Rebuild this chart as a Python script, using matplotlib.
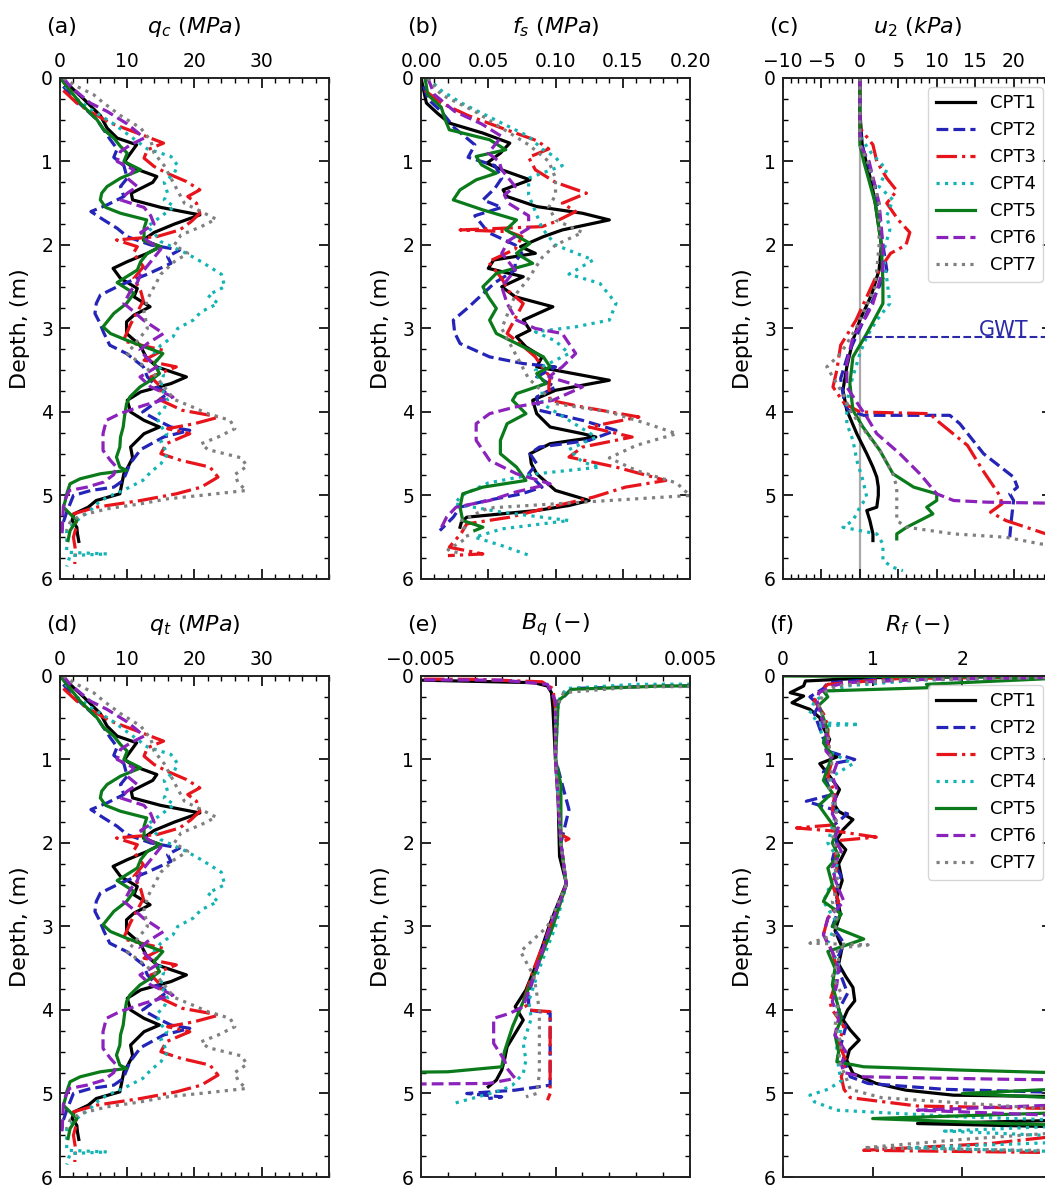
import matplotlib
matplotlib.use("Agg")
import matplotlib.pyplot as plt
from matplotlib.ticker import MultipleLocator, NullLocator, FuncFormatter

plt.rcParams["font.family"] = "DejaVu Sans"
plt.rcParams["mathtext.fontset"] = "dejavusans"

CPT_NAMES = ["CPT1", "CPT2", "CPT3", "CPT4", "CPT5", "CPT6", "CPT7"]
COLORS = ["#000000", "#2424b8", "#e8141c", "#14b4b4", "#0a7a1a", "#8c22bc", "#808080"]
STYLES = ["-", "--", "-.", ":", "-", "--", ":"]

# ---------------- cone resistance q_c (MPa) ----------------
qc1_z = [0.0, 0.1, 0.25, 0.45, 0.6, 0.72, 0.8, 0.9, 1.0, 1.08, 1.18, 1.25, 1.38, 1.46, 1.55, 1.64, 1.75, 1.85, 1.94, 2.02, 2.1, 2.2, 2.28, 2.4, 2.52, 2.62, 2.74, 2.84, 2.92, 3.06, 3.2, 3.34, 3.46, 3.58, 3.66, 3.76, 3.86, 4.0, 4.1, 4.18, 4.26, 4.42, 4.55, 4.66, 4.74, 4.86, 4.98, 5.06, 5.14, 5.22, 5.3, 5.38, 5.46, 5.55]
qc1_v = [0.0, 1.5, 3.5, 6.0, 7.0, 8.5, 11.4, 10.5, 9.6, 11.0, 14.4, 13.8, 10.6, 10.8, 15.0, 20.8, 17.0, 14.0, 12.4, 14.9, 13.0, 10.0, 7.9, 9.0, 11.5, 11.0, 13.4, 11.0, 9.9, 9.9, 11.9, 12.8, 14.4, 18.8, 16.5, 12.0, 10.0, 10.5, 12.5, 14.8, 12.5, 10.5, 10.8, 10.1, 9.5, 9.2, 8.9, 5.4, 4.2, 2.1, 1.8, 2.5, 2.6, 2.8]
qc2_z = [0.1, 0.2, 0.35, 0.5, 0.62, 0.73, 0.85, 0.95, 1.05, 1.2, 1.3, 1.42, 1.52, 1.6, 1.7, 1.8, 1.9, 2.0, 2.06, 2.14, 2.22, 2.35, 2.48, 2.6, 2.7, 2.82, 2.93, 3.05, 3.2, 3.3, 3.46, 3.58, 3.7, 3.78, 3.9, 4.0, 4.1, 4.18, 4.22, 4.3, 4.45, 4.62, 4.82, 4.9, 4.94, 5.0, 5.1, 5.2, 5.32, 5.45]
qc2_v = [0.5, 1.5, 3.5, 5.5, 6.5, 7.4, 8.5, 8.0, 9.5, 10.0, 9.0, 9.5, 7.0, 4.6, 6.5, 8.5, 10.0, 13.5, 17.8, 16.0, 16.5, 13.0, 9.0, 6.0, 5.4, 5.2, 5.9, 6.5, 7.4, 9.9, 12.4, 13.0, 14.4, 16.0, 14.0, 12.3, 14.5, 16.5, 19.3, 15.4, 12.0, 10.4, 9.4, 8.0, 4.6, 2.0, 1.5, 1.0, 0.5, 0.2]
qc3_z = [0.15, 0.3, 0.38, 0.54, 0.66, 0.78, 0.86, 0.96, 1.06, 1.14, 1.24, 1.34, 1.42, 1.5, 1.62, 1.72, 1.82, 1.9, 1.94, 2.02, 2.1, 2.26, 2.4, 2.55, 2.67, 2.8, 2.95, 3.15, 3.26, 3.38, 3.46, 3.58, 3.7, 3.86, 3.98, 4.06, 4.14, 4.2, 4.26, 4.38, 4.5, 4.58, 4.66, 4.78, 4.9, 4.98, 5.06, 5.14, 5.22, 5.35, 5.5, 5.65, 5.82]
qc3_v = [0.5, 2.5, 4.0, 7.5, 11.5, 15.4, 13.0, 12.5, 14.0, 15.9, 18.8, 20.8, 19.0, 20.3, 20.8, 19.5, 17.8, 14.4, 8.4, 11.5, 10.9, 12.4, 11.0, 12.0, 12.4, 11.5, 10.5, 9.4, 15.3, 12.5, 17.3, 13.5, 15.0, 15.0, 18.2, 23.7, 20.0, 16.0, 19.3, 15.8, 15.0, 18.0, 22.3, 23.5, 21.0, 17.3, 12.0, 5.4, 2.0, 2.5, 2.0, 2.3, 2.2]
qc4_z = [0.1, 0.25, 0.4, 0.55, 0.7, 0.85, 0.94, 1.05, 1.14, 1.25, 1.38, 1.46, 1.54, 1.66, 1.78, 1.86, 1.96, 2.1, 2.2, 2.35, 2.5, 2.6, 2.7, 2.8, 2.9, 3.0, 3.1, 3.2, 3.3, 3.42, 3.55, 3.7, 3.86, 3.96, 4.05, 4.15, 4.26, 4.36, 4.5, 4.62, 4.72, 4.82, 4.94, 5.02, 5.1, 5.18, 5.3, 5.42, 5.58, 5.68, 5.7, 5.72, 5.85]
qc4_v = [0.8, 2.5, 5.0, 8.0, 10.5, 13.0, 16.5, 17.5, 17.0, 15.5, 16.0, 15.5, 17.0, 15.0, 13.0, 14.0, 15.0, 18.8, 21.0, 24.0, 24.5, 22.0, 23.5, 21.0, 19.8, 17.5, 16.8, 15.0, 14.0, 14.5, 15.4, 15.0, 16.0, 15.5, 14.4, 14.8, 15.9, 15.0, 16.0, 15.0, 13.5, 12.3, 9.4, 7.0, 5.5, 4.5, 2.5, 1.0, 1.0, 1.0, 7.0, 1.5, 1.0]
qc5_z = [0.0, 0.15, 0.3, 0.5, 0.62, 0.72, 0.82, 0.9, 1.0, 1.1, 1.2, 1.3, 1.38, 1.46, 1.55, 1.62, 1.7, 1.8, 1.95, 2.02, 2.1, 2.2, 2.3, 2.45, 2.58, 2.7, 2.82, 2.98, 3.06, 3.14, 3.2, 3.3, 3.42, 3.54, 3.62, 3.7, 3.82, 3.9, 4.05, 4.18, 4.3, 4.42, 4.54, 4.66, 4.7, 4.74, 4.8, 4.86, 4.98, 5.06, 5.14, 5.22, 5.3, 5.42, 5.54]
qc5_v = [0.0, 1.5, 3.0, 5.5, 6.5, 8.0, 9.0, 10.0, 9.5, 12.0, 9.0, 7.0, 6.2, 6.0, 6.8, 9.0, 12.9, 12.5, 12.5, 15.0, 13.0, 12.0, 11.5, 8.5, 11.0, 9.9, 8.0, 6.4, 7.5, 9.9, 11.9, 15.3, 14.0, 14.8, 13.5, 11.9, 10.4, 9.9, 9.6, 9.4, 9.0, 8.9, 8.4, 8.9, 9.9, 6.0, 3.0, 1.5, 1.0, 0.8, 0.5, 1.5, 2.5, 1.5, 1.2]
qc6_z = [0.0, 0.1, 0.2, 0.3, 0.4, 0.55, 0.65, 0.72, 0.8, 0.88, 1.0, 1.1, 1.2, 1.3, 1.38, 1.46, 1.55, 1.65, 1.75, 1.85, 1.95, 2.05, 2.15, 2.25, 2.35, 2.45, 2.55, 2.7, 2.8, 2.9, 3.06, 3.18, 3.26, 3.36, 3.46, 3.58, 3.7, 3.82, 3.92, 4.02, 4.1, 4.26, 4.46, 4.58, 4.66, 4.75, 4.84, 4.9, 4.94, 5.04, 5.14, 5.3, 5.46]
qc6_v = [0.5, 1.5, 3.0, 4.5, 7.0, 10.0, 11.5, 12.5, 10.5, 9.0, 8.5, 11.0, 10.0, 11.5, 10.0, 9.0, 12.5, 13.5, 14.0, 12.0, 13.0, 15.0, 14.0, 13.0, 12.0, 11.5, 10.5, 9.5, 11.0, 12.4, 15.4, 13.0, 11.9, 13.0, 14.4, 11.9, 13.5, 16.8, 12.5, 8.9, 6.9, 6.4, 6.4, 7.5, 8.4, 8.0, 6.5, 4.0, 1.4, 0.8, 0.5, 0.4, 0.3]
qc7_z = [0.0, 0.1, 0.2, 0.3, 0.45, 0.6, 0.75, 0.9, 1.05, 1.2, 1.35, 1.5, 1.6, 1.69, 1.78, 1.88, 2.0, 2.1, 2.2, 2.35, 2.5, 2.65, 2.8, 3.0, 3.15, 3.3, 3.42, 3.55, 3.7, 3.85, 3.95, 4.02, 4.1, 4.2, 4.3, 4.38, 4.45, 4.55, 4.65, 4.75, 4.85, 4.94, 5.0, 5.04, 5.1, 5.16, 5.24, 5.32, 5.42]
qc7_v = [0.5, 2.5, 5.0, 6.5, 9.0, 12.0, 13.5, 14.0, 15.5, 16.5, 17.5, 18.5, 21.0, 23.2, 21.0, 18.0, 17.0, 19.0, 17.0, 15.0, 14.0, 13.0, 12.5, 13.0, 11.5, 10.0, 12.0, 14.0, 15.5, 17.0, 20.0, 22.0, 25.3, 26.0, 23.5, 21.0, 22.0, 27.0, 27.8, 26.0, 26.5, 27.7, 20.8, 16.0, 12.0, 7.0, 3.0, 1.5, 1.0]

# ---------------- sleeve friction f_s (MPa) ----------------
fs1_z = [0.0, 0.15, 0.3, 0.42, 0.54, 0.66, 0.78, 0.9, 1.02, 1.1, 1.22, 1.34, 1.42, 1.54, 1.62, 1.7, 1.82, 1.9, 2.02, 2.1, 2.18, 2.28, 2.38, 2.5, 2.62, 2.74, 2.9, 3.02, 3.1, 3.22, 3.34, 3.46, 3.5, 3.62, 3.74, 3.86, 4.02, 4.18, 4.26, 4.3, 4.38, 4.5, 4.62, 4.74, 4.94, 5.06, 5.12, 5.18, 5.26, 5.32, 5.38]
fs1_v = [0.0, 0.002, 0.004, 0.012, 0.021, 0.046, 0.066, 0.059, 0.049, 0.06, 0.081, 0.061, 0.064, 0.086, 0.12, 0.14, 0.105, 0.091, 0.074, 0.085, 0.054, 0.05, 0.076, 0.06, 0.07, 0.098, 0.076, 0.081, 0.071, 0.078, 0.09, 0.086, 0.1, 0.14, 0.1, 0.083, 0.086, 0.096, 0.12, 0.13, 0.096, 0.081, 0.082, 0.086, 0.1, 0.125, 0.11, 0.086, 0.034, 0.03, 0.029]
fs2_z = [0.1, 0.25, 0.4, 0.6, 0.8, 0.95, 1.05, 1.2, 1.32, 1.46, 1.55, 1.65, 1.75, 1.85, 2.0, 2.1, 2.2, 2.3, 2.45, 2.6, 2.75, 2.9, 3.05, 3.18, 3.34, 3.42, 3.46, 3.58, 3.7, 3.82, 3.98, 4.1, 4.22, 4.34, 4.42, 4.5, 4.62, 4.74, 4.9, 4.98, 5.06, 5.14, 5.26, 5.42]
fs2_v = [0.002, 0.005, 0.015, 0.025, 0.04, 0.035, 0.055, 0.06, 0.055, 0.046, 0.06, 0.04, 0.045, 0.05, 0.07, 0.075, 0.07, 0.07, 0.055, 0.045, 0.035, 0.024, 0.025, 0.029, 0.051, 0.076, 0.1, 0.086, 0.1, 0.086, 0.088, 0.12, 0.145, 0.125, 0.088, 0.081, 0.086, 0.08, 0.09, 0.075, 0.049, 0.029, 0.024, 0.014]
fs3_z = [0.15, 0.3, 0.45, 0.6, 0.75, 0.85, 0.95, 1.1, 1.25, 1.38, 1.5, 1.6, 1.72, 1.78, 1.82, 1.84, 1.9, 2.05, 2.2, 2.4, 2.55, 2.7, 2.94, 3.06, 3.2, 3.34, 3.46, 3.58, 3.7, 3.86, 3.94, 4.06, 4.18, 4.3, 4.42, 4.54, 4.66, 4.82, 4.9, 5.02, 5.14, 5.26, 5.34, 5.45, 5.62, 5.7, 5.72]
fs3_v = [0.003, 0.015, 0.035, 0.06, 0.086, 0.095, 0.08, 0.085, 0.1, 0.123, 0.105, 0.115, 0.1, 0.09, 0.029, 0.065, 0.075, 0.07, 0.05, 0.06, 0.065, 0.076, 0.068, 0.064, 0.075, 0.085, 0.09, 0.096, 0.095, 0.096, 0.12, 0.162, 0.125, 0.157, 0.12, 0.11, 0.145, 0.182, 0.152, 0.128, 0.096, 0.066, 0.034, 0.03, 0.021, 0.046, 0.02]
fs4_z = [0.0, 0.15, 0.3, 0.5, 0.7, 0.85, 0.95, 1.05, 1.2, 1.4, 1.6, 1.8, 2.0, 2.18, 2.35, 2.46, 2.6, 2.7, 2.9, 2.98, 3.04, 3.15, 3.3, 3.5, 3.7, 3.9, 4.1, 4.3, 4.45, 4.6, 4.66, 4.74, 4.85, 5.0, 5.1, 5.2, 5.3, 5.4, 5.5, 5.6, 5.72]
fs4_v = [0.005, 0.015, 0.03, 0.055, 0.08, 0.09, 0.1, 0.105, 0.08, 0.08, 0.085, 0.09, 0.1, 0.128, 0.11, 0.133, 0.14, 0.145, 0.14, 0.115, 0.085, 0.1, 0.11, 0.085, 0.09, 0.09, 0.11, 0.13, 0.11, 0.12, 0.133, 0.086, 0.05, 0.03, 0.025, 0.06, 0.11, 0.06, 0.04, 0.06, 0.081]
fs5_z = [0.0, 0.2, 0.35, 0.5, 0.62, 0.74, 0.86, 0.94, 1.04, 1.14, 1.22, 1.34, 1.46, 1.58, 1.7, 1.82, 1.98, 2.1, 2.22, 2.34, 2.5, 2.62, 2.76, 2.9, 3.06, 3.22, 3.34, 3.46, 3.54, 3.66, 3.78, 3.86, 4.02, 4.14, 4.34, 4.5, 4.66, 4.82, 4.9, 4.98, 5.14, 5.3, 5.38, 5.42]
fs5_v = [0.003, 0.005, 0.015, 0.018, 0.021, 0.051, 0.063, 0.041, 0.045, 0.056, 0.041, 0.029, 0.024, 0.046, 0.071, 0.063, 0.081, 0.071, 0.083, 0.056, 0.046, 0.05, 0.056, 0.051, 0.056, 0.076, 0.091, 0.096, 0.086, 0.093, 0.071, 0.068, 0.078, 0.064, 0.059, 0.059, 0.071, 0.078, 0.046, 0.031, 0.029, 0.031, 0.046, 0.04]
fs6_z = [0.0, 0.2, 0.4, 0.55, 0.7, 0.8, 0.9, 1.0, 1.1, 1.2, 1.3, 1.4, 1.5, 1.65, 1.8, 1.95, 2.1, 2.3, 2.5, 2.7, 2.9, 3.0, 3.06, 3.3, 3.46, 3.58, 3.7, 3.86, 3.94, 4.02, 4.14, 4.34, 4.58, 4.74, 4.86, 4.96, 5.06, 5.14, 5.26, 5.42]
fs6_v = [0.005, 0.01, 0.025, 0.045, 0.06, 0.055, 0.05, 0.058, 0.06, 0.065, 0.07, 0.062, 0.065, 0.08, 0.08, 0.065, 0.06, 0.07, 0.06, 0.064, 0.071, 0.085, 0.105, 0.115, 0.105, 0.095, 0.12, 0.098, 0.07, 0.051, 0.041, 0.041, 0.051, 0.071, 0.096, 0.07, 0.051, 0.026, 0.019, 0.014]
fs7_z = [0.0, 0.2, 0.4, 0.6, 0.8, 1.0, 1.2, 1.4, 1.55, 1.7, 1.85, 2.0, 2.15, 2.4, 2.6, 2.8, 3.0, 3.3, 3.6, 3.9, 4.0, 4.15, 4.26, 4.4, 4.55, 4.7, 4.85, 5.0, 5.05, 5.1, 5.15, 5.3, 5.5, 5.65, 5.7]
fs7_v = [0.005, 0.015, 0.04, 0.06, 0.08, 0.095, 0.1, 0.1, 0.095, 0.1, 0.12, 0.1, 0.09, 0.08, 0.07, 0.065, 0.06, 0.07, 0.08, 0.1, 0.14, 0.17, 0.19, 0.16, 0.14, 0.16, 0.19, 0.2, 0.15, 0.1, 0.05, 0.03, 0.035, 0.02, 0.03]

# ---------------- pore pressure u_2 (kPa) ----------------
u1_z = [0.0, 0.4, 0.8, 1.0, 1.25, 1.5, 1.75, 2.0, 2.3, 2.6, 2.9, 3.14, 3.46, 3.74, 3.98, 4.26, 4.5, 4.66, 4.78, 4.9, 5.0, 5.14, 5.18, 5.3, 5.46, 5.54]
u1_v = [0.0, 0.0, 0.3, 0.8, 1.5, 2.0, 2.4, 2.8, 2.5, 1.5, 0.0, -0.9, -1.7, -2.2, -1.7, -0.4, 0.9, 1.7, 2.2, 2.4, 2.4, 2.2, 0.9, 1.3, 1.7, 1.7]
u2_z = [0.0, 0.4, 0.8, 1.0, 1.3, 1.7, 2.0, 2.3, 2.6, 3.0, 3.3, 3.6, 3.9, 3.98, 4.04, 4.04, 4.14, 4.5, 4.78, 4.9, 4.98, 5.06, 5.3, 5.5]
u2_v = [0.0, 0.0, 0.2, 1.0, 2.0, 2.5, 3.0, 3.5, 2.0, 0.0, -1.5, -2.5, -2.0, -1.5, 0.5, 11.7, 13.0, 16.1, 20.0, 20.5, 19.5, 20.0, 19.7, 19.5]
u3_z = [0.0, 0.6, 0.8, 1.0, 1.2, 1.35, 1.5, 1.7, 1.85, 2.0, 2.1, 2.3, 2.6, 2.9, 3.2, 3.5, 3.7, 3.9, 4.0, 4.02, 4.1, 4.4, 4.7, 5.0, 5.1, 5.2, 5.3, 5.45, 5.55]
u3_v = [0.0, 0.0, 1.7, 2.2, 3.5, 4.8, 3.5, 5.0, 6.5, 6.0, 4.0, 2.5, 1.0, -0.5, -2.5, -3.0, -3.5, -2.0, 0.0, 9.1, 10.0, 14.0, 16.0, 18.2, 18.5, 17.0, 19.0, 23.9, 27.0]
u4_z = [0.0, 0.7, 0.9, 1.1, 1.3, 1.46, 1.65, 1.82, 2.1, 2.4, 2.7, 2.9, 3.1, 3.3, 3.7, 3.9, 4.14, 4.34, 4.58, 4.82, 5.02, 5.14, 5.3, 5.38, 5.42, 5.46, 5.58, 5.78, 5.86, 5.9]
u4_v = [0.0, 0.0, 1.5, 3.5, 2.5, 4.3, 3.5, 3.9, 3.0, 3.5, 3.9, 2.2, 0.9, 0.0, -1.3, -1.7, -1.7, -0.9, -0.4, 0.4, 0.9, 0.0, -0.9, -2.2, 0.0, 2.2, 3.0, 3.0, 4.3, 5.6]
u5_z = [0.0, 0.8, 1.0, 1.5, 2.0, 2.46, 2.7, 3.06, 3.34, 3.66, 3.98, 4.18, 4.46, 4.74, 4.9, 4.98, 5.06, 5.14, 5.22, 5.3, 5.38, 5.46, 5.52]
u5_v = [0.0, 0.0, 0.5, 2.0, 2.8, 3.0, 3.0, 0.9, -0.9, -1.3, -0.9, 0.4, 2.6, 4.3, 7.0, 10.0, 10.0, 8.7, 9.5, 7.8, 6.1, 4.8, 4.8]
u6_z = [0.0, 0.8, 1.0, 1.5, 2.0, 2.3, 2.7, 2.86, 3.1, 3.42, 3.7, 3.94, 4.06, 4.26, 4.5, 4.74, 4.98, 5.06, 5.08, 5.1]
u6_v = [0.0, 0.0, 1.2, 2.5, 3.0, 3.0, 1.7, 0.8, -0.9, -1.7, -1.7, 0.0, 0.9, 2.2, 5.2, 7.8, 10.0, 12.2, 16.5, 30.0]
u7_z = [0.0, 0.8, 1.0, 1.5, 2.0, 2.5, 3.0, 3.3, 3.46, 3.66, 3.82, 3.98, 4.26, 4.46, 4.74, 4.9, 5.14, 5.3, 5.38, 5.46, 5.5, 5.58, 5.62]
u7_v = [0.0, 0.0, 1.0, 2.5, 2.5, 2.0, -0.5, -2.5, -4.3, -3.0, -2.0, -1.3, 0.9, 2.6, 4.3, 4.8, 4.8, 4.8, 6.1, 12.2, 19.0, 23.5, 30.0]

GWT_DEPTH = 3.1

# ---------------- pore pressure ratio B_q (-) ----------------
bq1_z = [0.03, 0.05, 0.08, 0.12, 0.2, 0.37, 1.0, 1.5, 2.16, 2.48, 2.96, 3.44, 3.76, 3.96, 4.12, 4.28, 4.44, 4.6, 4.72, 4.84, 4.92]
bq1_v = [-0.02, -0.005, -0.0008, -0.0003, -0.00015, -0.0001, 0.0, 0.0001, 0.00015, 0.0004, -0.0002, -0.0007, -0.0011, -0.0015, -0.0012, -0.0015, -0.0018, -0.0019, -0.002, -0.0022, -0.0025]
bq2_z = [0.1, 0.12, 0.15, 0.22, 0.3, 0.4, 1.0, 1.6, 2.0, 2.5, 3.0, 3.4, 3.8, 4.0, 4.04, 4.1, 4.5, 4.9, 4.96, 5.0, 5.04, 5.06]
bq2_v = [0.02, 0.004, 0.0006, 0.0004, 0.00015, 0.0, 0.0, 0.0005, 0.0002, 0.0004, -0.0002, -0.0006, -0.001, -0.001, -0.0002, -0.0002, -0.0002, -0.0002, -0.0015, -0.0033, -0.002, -0.0025]
bq3_z = [0.02, 0.04, 0.07, 0.15, 0.4, 1.0, 1.9, 1.95, 2.0, 2.5, 3.0, 3.5, 3.9, 4.0, 4.02, 4.5, 5.0, 5.08]
bq3_v = [-0.02, -0.003, -0.0005, -0.0001, 0.0, 0.0, 0.0002, 0.0005, 0.0002, 0.0004, -0.0002, -0.0008, -0.0012, -0.001, -0.0002, -0.0002, -0.0002, -0.0003]
bq4_z = [0.08, 0.1, 0.15, 0.3, 1.0, 2.0, 2.5, 3.0, 3.5, 3.9, 4.1, 4.4, 4.6, 4.76, 4.9, 4.96, 5.05, 5.12]
bq4_v = [0.02, 0.003, 0.0004, 0.0001, 0.0, 0.0002, 0.0004, 0.0, -0.0006, -0.001, -0.0009, -0.0012, -0.0011, -0.0012, -0.0016, -0.002, -0.003, -0.0038]
bq5_z = [0.1, 0.12, 0.16, 0.3, 1.0, 1.3, 2.0, 2.5, 3.0, 3.5, 3.9, 4.2, 4.5, 4.68, 4.74, 4.8]
bq5_v = [0.02, 0.004, 0.0006, 0.0001, 0.0, 0.0002, 0.0002, 0.0004, -0.0001, -0.0007, -0.0012, -0.0016, -0.0019, -0.002, -0.004, -0.02]
bq6_z = [0.03, 0.05, 0.1, 0.3, 1.0, 2.0, 2.5, 3.0, 3.5, 3.96, 4.04, 4.1, 4.4, 4.6, 4.7, 4.82, 4.88, 4.92]
bq6_v = [-0.02, -0.002, -0.0003, 0.0, 0.0, 0.0002, 0.0004, -0.0002, -0.0007, -0.0012, -0.0017, -0.0023, -0.0023, -0.0019, -0.0018, -0.0015, -0.0025, -0.02]
bq7_z = [0.1, 0.13, 0.2, 0.4, 1.0, 2.0, 2.5, 3.0, 3.3, 3.6, 4.0, 4.12, 4.5, 4.76, 5.0, 5.04]
bq7_v = [0.02, 0.003, 0.0003, 0.0, 0.0, 0.0002, 0.0004, -0.0003, -0.0013, -0.0008, -0.0006, -0.0006, -0.0006, -0.0006, -0.0007, -0.0011]

# ---------------- friction ratio R_f (-) ----------------
rf1_z = [0.0, 0.02, 0.06, 0.12, 0.2, 0.24, 0.32, 0.4, 0.5, 0.62, 0.76, 0.88, 0.97, 1.05, 1.2, 1.36, 1.52, 1.62, 1.72, 1.84, 1.96, 2.08, 2.25, 2.45, 2.65, 2.85, 3.05, 3.25, 3.45, 3.6, 3.73, 3.89, 4.0, 4.12, 4.24, 4.36, 4.48, 4.6, 4.76, 4.88, 4.96, 5.02, 5.05, 5.15, 5.3, 5.36, 5.42]
rf1_v = [3.5, 1.0, 0.25, 0.23, 0.08, 0.23, 0.1, 0.3, 0.41, 0.45, 0.52, 0.48, 0.6, 0.41, 0.52, 0.63, 0.56, 0.62, 0.78, 0.67, 0.6, 0.7, 0.62, 0.66, 0.6, 0.64, 0.58, 0.66, 0.62, 0.7, 0.78, 0.8, 0.72, 0.67, 0.75, 0.85, 0.74, 0.71, 0.78, 1.04, 1.37, 1.9, 4.0, 4.0, 4.0, 1.5, 4.0]
rf2_z = [0.0, 0.03, 0.08, 0.15, 0.25, 0.35, 0.45, 0.6, 0.75, 0.9, 1.0, 1.05, 1.15, 1.3, 1.42, 1.5, 1.58, 1.65, 1.8, 2.0, 2.2, 2.4, 2.6, 2.8, 3.0, 3.2, 3.4, 3.6, 3.8, 4.0, 4.2, 4.4, 4.6, 4.8, 4.88, 4.95, 5.0, 5.1, 5.25, 5.35]
rf2_v = [4.0, 1.2, 0.5, 0.45, 0.3, 0.4, 0.35, 0.4, 0.45, 0.5, 0.8, 0.55, 0.45, 0.5, 0.55, 0.26, 0.5, 0.72, 0.55, 0.6, 0.55, 0.65, 0.58, 0.62, 0.55, 0.68, 0.6, 0.65, 0.72, 0.62, 0.7, 0.65, 0.68, 0.75, 0.95, 1.8, 3.5, 4.0, 4.0, 4.0]
rf3_z = [0.0, 0.03, 0.1, 0.2, 0.3, 0.45, 0.6, 0.8, 1.0, 1.2, 1.4, 1.6, 1.78, 1.82, 1.86, 1.93, 1.97, 2.1, 2.3, 2.5, 2.7, 2.9, 3.1, 3.3, 3.5, 3.7, 3.9, 4.0, 4.2, 4.4, 4.6, 4.8, 4.95, 5.05, 5.15, 5.2, 5.4, 5.6, 5.68, 5.72]
rf3_v = [4.0, 1.3, 0.5, 0.4, 0.35, 0.45, 0.5, 0.5, 0.55, 0.5, 0.58, 0.55, 0.6, 0.15, 0.6, 1.04, 0.62, 0.58, 0.6, 0.55, 0.62, 0.5, 0.45, 0.55, 0.6, 0.58, 0.52, 0.55, 0.68, 0.62, 0.7, 0.65, 0.68, 0.75, 1.5, 4.0, 4.0, 2.3, 0.9, 4.0]
rf4_z = [0.0, 0.05, 0.12, 0.2, 0.3, 0.45, 0.56, 0.58, 0.6, 0.75, 0.9, 1.05, 1.2, 1.4, 1.6, 1.8, 2.0, 2.2, 2.45, 2.7, 2.95, 3.2, 3.45, 3.7, 3.95, 4.2, 4.45, 4.7, 4.85, 4.95, 5.02, 5.1, 5.2, 5.28, 5.35, 5.45, 5.55, 5.65, 5.72, 5.78]
rf4_v = [4.0, 1.5, 0.7, 0.5, 0.35, 0.3, 0.4, 0.85, 0.4, 0.45, 0.5, 0.78, 0.55, 0.5, 0.6, 0.55, 0.5, 0.62, 0.55, 0.45, 0.6, 0.5, 0.62, 0.58, 0.6, 0.65, 0.6, 0.62, 0.65, 0.5, 0.3, 0.35, 0.6, 2.0, 4.0, 1.8, 4.0, 1.4, 4.0, 4.0]
rf5_z = [0.0, 0.02, 0.03, 0.1, 0.14, 0.18, 0.25, 0.35, 0.5, 0.65, 0.8, 0.95, 1.1, 1.25, 1.4, 1.55, 1.7, 1.85, 2.0, 2.15, 2.3, 2.5, 2.7, 2.85, 3.0, 3.15, 3.3, 3.5, 3.7, 3.9, 4.1, 4.3, 4.5, 4.62, 4.68, 4.72, 4.78, 4.9, 5.0, 5.1, 5.2, 5.3, 5.36, 5.4]
rf5_v = [0.0, 4.0, 3.0, 1.6, 1.63, 0.45, 0.5, 0.4, 0.45, 0.5, 0.45, 0.55, 0.5, 0.45, 0.55, 0.4, 0.5, 0.6, 0.55, 0.62, 0.5, 0.55, 0.45, 0.65, 0.55, 0.9, 0.5, 0.58, 0.55, 0.6, 0.65, 0.58, 0.62, 0.6, 0.9, 2.0, 4.0, 4.0, 2.0, 4.0, 4.0, 1.0, 2.5, 4.0]
rf6_z = [0.0, 0.04, 0.08, 0.12, 0.2, 0.3, 0.45, 0.6, 0.75, 0.9, 1.05, 1.2, 1.35, 1.5, 1.65, 1.8, 1.95, 2.1, 2.3, 2.5, 2.7, 2.9, 3.1, 3.3, 3.5, 3.7, 3.9, 4.1, 4.3, 4.5, 4.65, 4.75, 4.8, 4.83, 4.85, 5.1, 5.2, 5.3]
rf6_v = [4.0, 1.6, 0.7, 0.55, 0.4, 0.38, 0.42, 0.45, 0.5, 0.48, 0.6, 0.55, 0.6, 0.58, 0.55, 0.62, 0.58, 0.65, 0.55, 0.6, 0.68, 0.5, 0.45, 0.55, 0.62, 0.6, 0.55, 0.62, 0.58, 0.7, 0.65, 0.68, 0.9, 2.5, 4.0, 4.0, 1.5, 4.0]
rf7_z = [0.0, 0.05, 0.12, 0.2, 0.35, 0.5, 0.7, 0.9, 1.1, 1.3, 1.5, 1.7, 1.9, 2.1, 2.3, 2.5, 2.7, 2.9, 3.1, 3.2, 3.22, 3.26, 3.4, 3.6, 3.8, 4.0, 4.2, 4.4, 4.6, 4.8, 4.95, 5.05, 5.15, 5.25, 5.4, 5.55, 5.65, 5.7]
rf7_v = [4.0, 1.2, 0.6, 0.45, 0.4, 0.45, 0.5, 0.52, 0.55, 0.5, 0.58, 0.6, 0.55, 0.6, 0.58, 0.62, 0.55, 0.6, 0.58, 0.3, 0.95, 0.6, 0.62, 0.55, 0.65, 0.6, 0.58, 0.65, 0.62, 0.7, 0.75, 1.1, 2.5, 4.0, 4.0, 2.0, 0.9, 4.0]

QC = [(qc1_z, qc1_v), (qc2_z, qc2_v), (qc3_z, qc3_v), (qc4_z, qc4_v),
      (qc5_z, qc5_v), (qc6_z, qc6_v), (qc7_z, qc7_v)]
# u2 is at most a few tens of kPa, so q_t = q_c + u2(1 - a) sits on top of q_c
QT = QC
FS = [(fs1_z, fs1_v), (fs2_z, fs2_v), (fs3_z, fs3_v), (fs4_z, fs4_v),
      (fs5_z, fs5_v), (fs6_z, fs6_v), (fs7_z, fs7_v)]
U2 = [(u1_z, u1_v), (u2_z, u2_v), (u3_z, u3_v), (u4_z, u4_v),
      (u5_z, u5_v), (u6_z, u6_v), (u7_z, u7_v)]
BQ = [(bq1_z, bq1_v), (bq2_z, bq2_v), (bq3_z, bq3_v), (bq4_z, bq4_v),
      (bq5_z, bq5_v), (bq6_z, bq6_v), (bq7_z, bq7_v)]
RF = [(rf1_z, rf1_v), (rf2_z, rf2_v), (rf3_z, rf3_v), (rf4_z, rf4_v),
      (rf5_z, rf5_v), (rf6_z, rf6_v), (rf7_z, rf7_v)]


def minus(fmt):
    return FuncFormatter(lambda v, _: (fmt % v).replace("-", "\u2212"))


def setup(ax, tag, title, xlim, xticks, xminor, fmt):
    ax.set_xlim(*xlim)
    ax.set_ylim(6, 0)
    ax.set_xticks(xticks)
    ax.xaxis.set_major_formatter(minus(fmt))
    if xminor:
        ax.xaxis.set_minor_locator(MultipleLocator(xminor))
    else:
        ax.xaxis.set_minor_locator(NullLocator())
    ax.yaxis.set_major_locator(MultipleLocator(1))
    ax.yaxis.set_minor_locator(MultipleLocator(0.25))
    ax.tick_params(which="both", direction="in", top=True, bottom=True,
                   left=True, right=True, labeltop=True, labelbottom=False)
    ax.tick_params(which="major", length=7, width=1.2, labelsize=13.5, pad=5)
    ax.tick_params(which="minor", length=3.5, width=1.0)
    for sp in ax.spines.values():
        sp.set_linewidth(1.4)
        sp.set_color("#222222")
    ax.set_ylabel("Depth, (m)", fontsize=16, labelpad=8)
    ax.text(0.5, 1.102, title, transform=ax.transAxes, ha="center",
            va="center", fontsize=16)
    ax.text(-0.05, 1.102, tag, transform=ax.transAxes, ha="left",
            va="center", fontsize=16)


def draw(ax, series):
    for (z, v), c, ls, name in zip(series, COLORS, STYLES, CPT_NAMES):
        ax.plot(v, z, color=c, linestyle=ls, lw=2.3, label=name)


fig = plt.figure(figsize=(10.45, 11.85), dpi=100)
W, H = 0.2574, 0.4228
LEFTS = [0.0574, 0.4029, 0.7493]
BOTTOMS = [0.5114, 0.00675]

ax_a = fig.add_axes([LEFTS[0], BOTTOMS[0], W, H])
ax_b = fig.add_axes([LEFTS[1], BOTTOMS[0], W, H])
ax_c = fig.add_axes([LEFTS[2], BOTTOMS[0], W, H])
ax_d = fig.add_axes([LEFTS[0], BOTTOMS[1], W, H])
ax_e = fig.add_axes([LEFTS[1], BOTTOMS[1], W, H])
ax_f = fig.add_axes([LEFTS[2], BOTTOMS[1], W, H])

draw(ax_a, QC)
setup(ax_a, "(a)", r"$q_c\ (MPa)$", (0, 40), [0, 10, 20, 30], 2, "%g")

draw(ax_b, FS)
setup(ax_b, "(b)", r"$f_s\ (MPa)$", (0, 0.2), [0, 0.05, 0.10, 0.15, 0.20], 0.01, "%.2f")

ax_c.axvline(0, color="#aaaaaa", lw=1.6, zorder=1)
draw(ax_c, U2)
ax_c.plot([0.5, 25], [GWT_DEPTH, GWT_DEPTH], linestyle="--", color="#2a2aa8", lw=1.5)
ax_c.text(18.7, GWT_DEPTH - 0.01, "GWT", color="#2a2aa8", ha="center",
          va="baseline", fontsize=15)
setup(ax_c, "(c)", r"$u_2\ (kPa)$", (-10, 25), [-10, -5, 0, 5, 10, 15, 20], 1, "%g")
ax_c.legend(loc="upper right", fontsize=13, handlelength=2.2)

draw(ax_d, QT)
setup(ax_d, "(d)", r"$q_t\ (MPa)$", (0, 40), [0, 10, 20, 30], 2, "%g")

draw(ax_e, BQ)
setup(ax_e, "(e)", r"$B_q\ (-)$", (-0.005, 0.005), [-0.005, 0.0, 0.005], 0.001, "%.3f")

draw(ax_f, RF)
setup(ax_f, "(f)", r"$R_f\ (-)$", (0, 3), [0, 1, 2], None, "%g")
ax_f.legend(loc="upper right", fontsize=13, handlelength=2.2)

fig.savefig("out.png", dpi=100)
